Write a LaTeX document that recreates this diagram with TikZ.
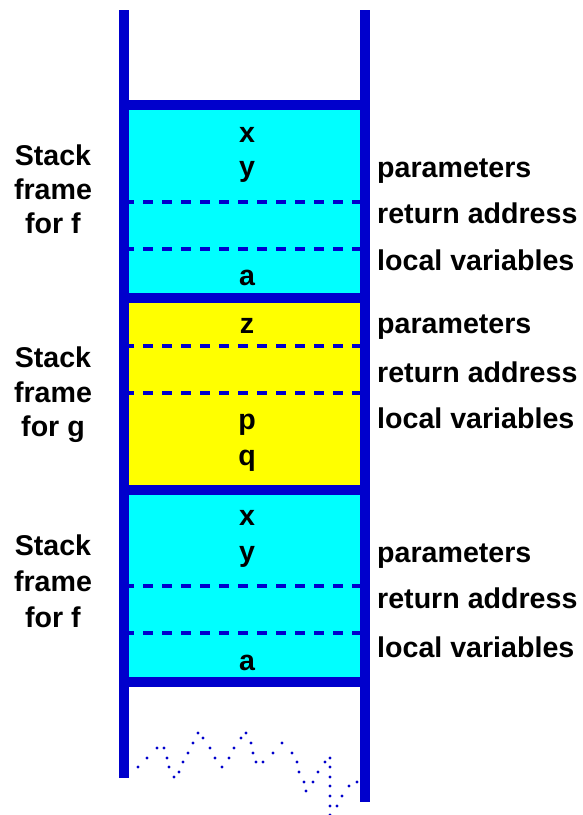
\documentclass[tikz,border=0pt]{standalone}
\usepackage{fontspec}
\setmainfont{Liberation Sans}
\definecolor{stackblue}{RGB}{0,0,204}
\definecolor{framecyan}{RGB}{0,255,255}
\definecolor{frameyellow}{RGB}{255,255,0}
\begin{document}
\begin{tikzpicture}[x=1pt,y=-1pt,
  wall/.style={stackblue,line width=10pt,line cap=butt},
  divider/.style={stackblue,line width=4.5pt,dash pattern=on 9.5pt off 9.5pt},
  txt/.style={font=\fontsize{28.6}{30}\selectfont\bfseries,inner sep=0pt,anchor=base},
  rtxt/.style={txt,anchor=base west},
  dotc/.style={stackblue}]
\useasboundingbox (0,0) rectangle (583,815);
% frame backgrounds
\fill[framecyan]   (129,110) rectangle (360,293);
\fill[frameyellow] (129,302) rectangle (360,485);
\fill[framecyan]   (129,494) rectangle (360,677);
% dashed boundaries between parameters / return address / locals
\foreach \yy in {202,249,346,393,586,633}
  \draw[divider] (124,\yy) -- (364.5,\yy);
% walls of the stack
\draw[wall] (124,10) -- (124,778);
\draw[wall] (364.5,10) -- (364.5,802);
\foreach \yy in {105,298,489.5,682}
  \draw[wall] (119,\yy) -- (369.5,\yy);
% torn-off bottom of the stack
\foreach \px/\py in {138/767,147/758,157/748,164/748,167/758,169/767,174/777,
  179/772,183/762,188/753,193/743,198/733,203/738,210/748,215/758,222/767,
  229/758,234/748,241/738,246/733,251/743,253/753,256/762,263/762,273/753,
  282/743,292/753,297/762,299/772,304/782,306/791,313/782,318/772,325/762,
  330/758,330/767,330/777,330/786,330/796,330/806,330/815,337/806,342/796,
  349/786,357/782}
  \fill[dotc] (\px,\py) circle (1.6pt);
% contents of the frames
\node[txt] (fx1) at (247,142) {x};
\node[txt] (fy1) at (247,176) {y};
\node[txt] (fa1) at (247,285) {a};
\node[txt] (gz)  at (247,333) {z};
\node[txt] (gp)  at (247,429) {p};
\node[txt] (gq)  at (247,465) {q};
\node[txt] (fx2) at (247,525) {x};
\node[txt] (fy2) at (247,561) {y};
\node[txt] (fa2) at (247,670) {a};
% frame names
\node[txt] (s1a) at (53,165) {Stack};
\node[txt] (s1b) at (53,199) {frame};
\node[txt] (s1c) at (53,233) {for f};
\node[txt] (s2a) at (53,367) {Stack};
\node[txt] (s2b) at (53,402) {frame};
\node[txt] (s2c) at (53,436) {for g};
\node[txt] (s3a) at (53,555) {Stack};
\node[txt] (s3b) at (53,591) {frame};
\node[txt] (s3c) at (53,627) {for f};
% parts of each frame
\node[rtxt] (p1) at (377,177) {parameters};
\node[rtxt] (r1) at (377,223) {return address};
\node[rtxt] (l1) at (377,270) {local variables};
\node[rtxt] (p2) at (377,333) {parameters};
\node[rtxt] (r2) at (377,382) {return address};
\node[rtxt] (l2) at (377,428) {local variables};
\node[rtxt] (p3) at (377,562) {parameters};
\node[rtxt] (r3) at (377,608) {return address};
\node[rtxt] (l3) at (377,657) {local variables};
\end{tikzpicture}
\end{document}
